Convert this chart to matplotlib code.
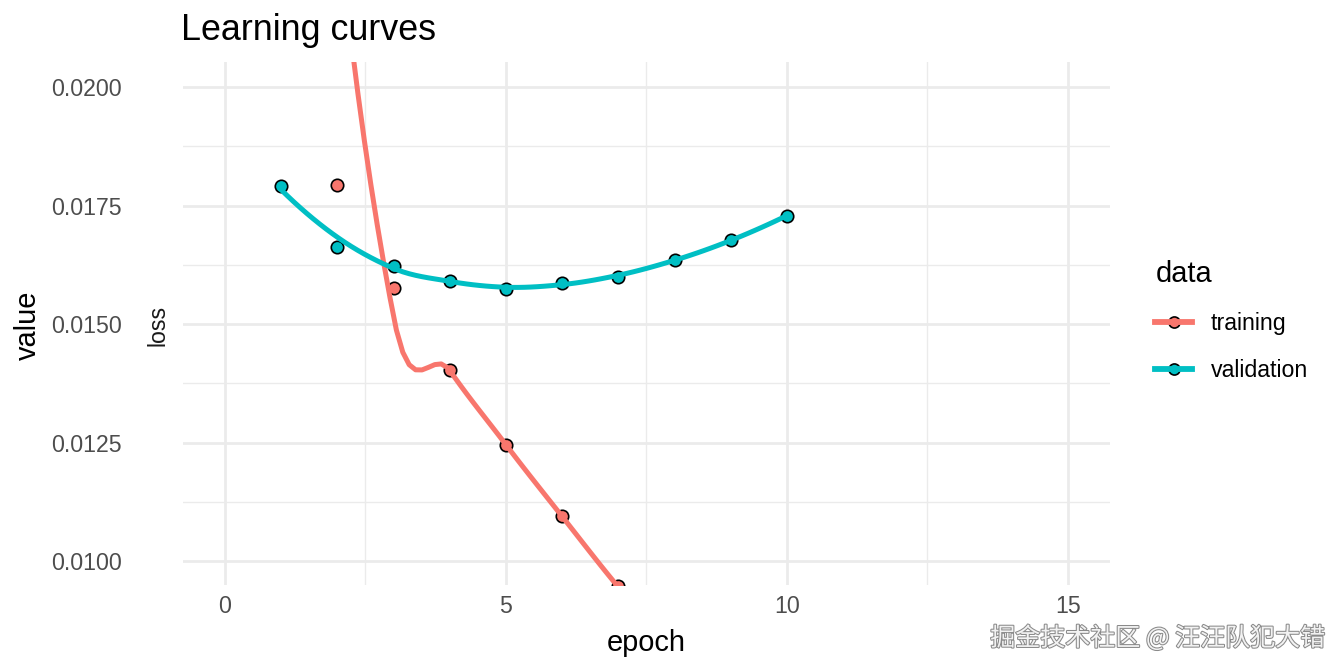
import numpy as np
import matplotlib.pyplot as plt
from matplotlib.lines import Line2D
from matplotlib.legend_handler import HandlerTuple
import matplotlib.patheffects as pe

plt.rcParams['font.family'] = ['Liberation Sans', 'Noto Sans CJK SC', 'DejaVu Sans']

# данные (эпохи 1, 8-10 для training за пределами видимой области — оценка)
epochs = np.arange(1, 11)
training = np.array([0.0407, 0.01794, 0.01577, 0.01404, 0.01246,
                     0.01095, 0.00947, 0.00805, 0.00690, 0.00580])
validation = np.array([0.01792, 0.01663, 0.01623, 0.01590, 0.01575,
                       0.01587, 0.01600, 0.01636, 0.01678, 0.01728])
series = ['training', 'validation']
colors = {'training': '#F8766D', 'validation': '#00BFC4'}


def local_fit(x, y, x0, span=0.75):
    # локальная квадратичная регрессия с трикубическими весами
    n = len(x)
    q = int(np.floor(n * span + 1e-5))
    d = np.abs(x - x0)
    h = np.sort(d)[q - 1]
    u = d / h
    w = np.where(u < 1, (1 - u ** 3) ** 3, 0.0)
    X = np.vstack([np.ones(n), x - x0, (x - x0) ** 2]).T
    A = X.T @ (w[:, None] * X)
    b = X.T @ (w * y)
    beta = np.linalg.solve(A, b)
    return beta[0], beta[1]


def kd_vertices(x, span=0.75, cell=0.2):
    # вершины kd-дерева, как в loess(surface = "interpolate")
    xsort = np.sort(x)
    n = len(x)
    fc = int(np.floor(n * span * cell))
    mu = 0.005 * (xsort[-1] - xsort[0])
    lo, hi = xsort[0] - mu, xsort[-1] + mu
    verts = {lo, hi}

    def split(l, u, a, b):
        if u - l + 1 <= fc:
            return
        m = (l + u) // 2
        t = xsort[m - 1]
        if t == a or t == b:
            return
        verts.add(t)
        split(l, m, a, t)
        split(m + 1, u, t, b)

    split(1, n, lo, hi)
    return np.array(sorted(verts))


def loess(x, y, xs, span=0.75):
    v = kd_vertices(x, span)
    vals = np.array([local_fit(x, y, v0, span) for v0 in v])
    res = []
    for x0 in xs:
        i = min(np.searchsorted(v, x0, side='right') - 1, len(v) - 2)
        a, b = v[i], v[i + 1]
        t = (x0 - a) / (b - a)
        phi0 = (1 - t) ** 2 * (1 + 2 * t)
        phi1 = t ** 2 * (3 - 2 * t)
        psi0 = t * (1 - t) ** 2
        psi1 = -t ** 2 * (1 - t)
        res.append(phi0 * vals[i, 0] + phi1 * vals[i + 1, 0]
                   + (psi0 * vals[i, 1] + psi1 * vals[i + 1, 1]) * (b - a))
    return np.array(res)


fig = plt.figure(figsize=(13.44, 6.72), dpi=100)
ax = fig.add_axes([0.136, 0.1295, 0.690, 0.7785])

xs = np.linspace(1, 10, 80)
data = {'training': training, 'validation': validation}
for s in series:
    ax.scatter(epochs, data[s], s=80, color=colors[s], edgecolor='black', linewidth=1.2, zorder=3)
for s in series:
    ax.plot(xs, loess(epochs.astype(float), data[s], xs), color=colors[s], lw=3.6, zorder=4)

ax.set_xlim(-0.75, 15.75)
ax.set_ylim(0.00950, 0.02053)
ax.set_xticks([0, 5, 10, 15])
ax.set_xticks([2.5, 7.5, 12.5], minor=True)
ax.set_yticks([0.0100, 0.0125, 0.0150, 0.0175, 0.0200])
ax.set_yticks([0.01125, 0.01375, 0.01625, 0.01875], minor=True)
ax.set_yticklabels(['0.0100', '0.0125', '0.0150', '0.0175', '0.0200'])
ax.grid(True, which='major', color='#EBEBEB', lw=2.0)
ax.grid(True, which='minor', color='#EBEBEB', lw=1.0)
ax.set_axisbelow(True)
for sp in ax.spines.values():
    sp.set_visible(False)
ax.tick_params(which='both', length=0, labelsize=16.7, colors='#4D4D4D')
ax.tick_params(axis='y', pad=44)
ax.tick_params(axis='x', pad=7)

ax.set_xlabel('epoch', fontsize=20.9, labelpad=8)
fig.text(0.021, 0.516, 'value', fontsize=20.9, rotation=90, ha='center', va='center')
fig.text(0.1176, 0.516, 'loss', fontsize=16.7, rotation=90, ha='center', va='center', color='#1A1A1A')
fig.text(0.135, 0.955, 'Learning curves', fontsize=25.8, ha='left', va='center')

# в легенде линия поверх точки, как в ggplot
handles = [(Line2D([0], [0], ls='none', marker='o', markersize=8,
                   markerfacecolor=colors[s], markeredgecolor='black', markeredgewidth=1.2),
            Line2D([0], [0], color=colors[s], lw=4.2))
           for s in series]
leg = fig.legend(handles, series, loc='center left', bbox_to_anchor=(0.851, 0.522),
                 frameon=False, fontsize=16.7, title='data', title_fontsize=20.9,
                 handlelength=1.6, handletextpad=0.8, labelspacing=1.03, borderpad=0,
                 alignment='left', handler_map={tuple: HandlerTuple(ndivide=1, pad=0)})

fig.text(0.986, 0.05, '掘金技术社区 @ 汪汪队犯大错', fontsize=18, ha='right', va='center',
         color='#f2f2f2', family=['Noto Sans CJK SC', 'DejaVu Sans'],
         path_effects=[pe.withStroke(linewidth=1.5, foreground='#8a8a8a')])

plt.savefig('out.png', dpi=100)
